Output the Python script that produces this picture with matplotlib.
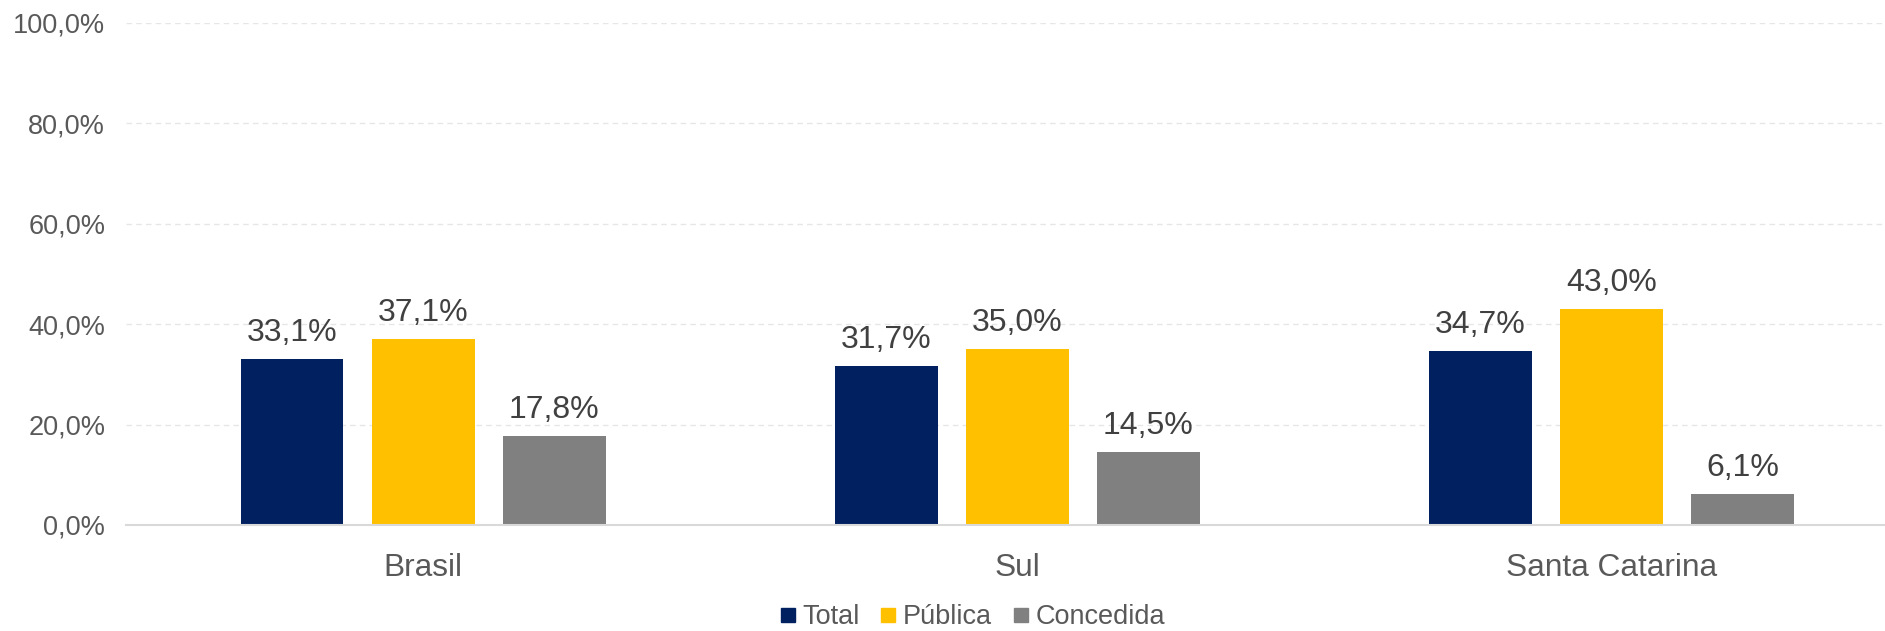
import matplotlib.pyplot as plt
from matplotlib.lines import Line2D
import numpy as np

plt.rcParams['font.family'] = ['Liberation Sans', 'DejaVu Sans']

regioes = ['Brasil', 'Sul', 'Santa Catarina']
series = ['Total', 'Pública', 'Concedida']
total = [33.1, 31.7, 34.7]
publica = [37.1, 35.0, 43.0]
concedida = [17.8, 14.5, 6.1]
cores = ['#002060', '#FFC000', '#808080']
yticks = [0, 20, 40, 60, 80, 100]


def fmt(v):
	# virgula como separador decimal
	return ('%.1f%%' % v).replace('.', ',')


fig = plt.figure(figsize=(18.85, 6.31), dpi=100)
ax = fig.add_axes([126/1885, 1 - 525/631, 1 - 126/1885, (525 - 23)/631])

x = np.arange(len(regioes))
largura = 0.173
passo = 0.2205
valores = [total, publica, concedida]

for i in range(len(series)):
	pos = x + (i - 1)*passo
	ax.bar(pos, valores[i], largura, color=cores[i], zorder=3)
	for xp, v in zip(pos, valores[i]):
		ax.annotate(fmt(v), (xp, v), xytext=(0, 13), textcoords='offset points',
			ha='center', va='baseline', fontsize=23, color='#404040')

ax.set_xlim(-0.5, 2.46)
ax.set_ylim(0, 100)
ax.set_yticks(yticks)
ax.set_yticklabels([fmt(t) for t in yticks])
ax.set_xticks(x)
ax.set_xticklabels(regioes)

ax.tick_params(axis='y', length=0, pad=15, labelsize=19.5, labelcolor='#595959')
ax.tick_params(axis='x', length=0, pad=20, labelsize=22.8, labelcolor='#595959')

ax.grid(axis='y', color='#e6e6e6', linestyle=(0, (4, 3)), linewidth=1, zorder=0)
for s in ['top', 'right', 'left']:
	ax.spines[s].set_visible(False)
ax.spines['bottom'].set_color('#d9d9d9')
ax.spines['bottom'].set_linewidth(1.5)
ax.spines['bottom'].set_zorder(4)

handles = [Line2D([], [], marker='s', linestyle='none', markersize=9.5,
	markerfacecolor=c, markeredgecolor=c) for c in cores]
fig.legend(handles, series, loc='center', bbox_to_anchor=(973/1885, 1 - 617/631),
	ncol=3, frameon=False, fontsize=19.5, labelcolor='#595959',
	handlelength=0.5, handletextpad=0.3, columnspacing=0.8, borderpad=0)

fig.savefig('out.png', dpi=100)
